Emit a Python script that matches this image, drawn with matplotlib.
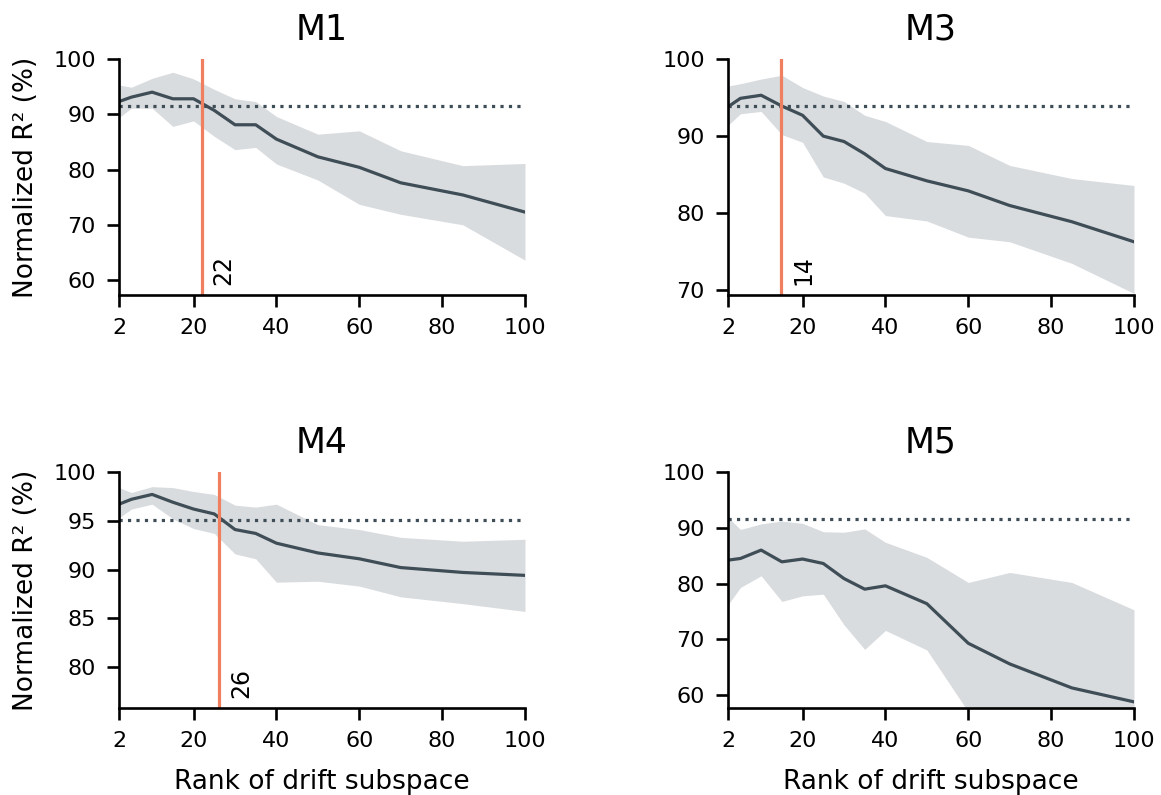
import numpy as np
import matplotlib
matplotlib.use("Agg")
import matplotlib.pyplot as plt

# ranks of the drift subspace (shared x axis)
ranks = [2, 5, 10, 15, 20, 25, 30, 35, 40, 50, 60, 70, 85, 100]

titles = ["M1", "M3", "M4", "M5"]

# mean normalized R2 (%) per animal
mean_m1 = [92.3, 93.1, 94.0, 92.8, 92.8, 90.7, 88.1, 88.1, 85.5, 82.3, 80.4, 77.6, 75.4, 72.3]
mean_m3 = [93.8, 94.9, 95.3, 93.9, 92.7, 90.0, 89.3, 87.7, 85.8, 84.2, 82.9, 81.0, 78.9, 76.3]
mean_m4 = [96.7, 97.2, 97.7, 96.9, 96.2, 95.7, 94.1, 93.7, 92.7, 91.7, 91.1, 90.2, 89.7, 89.4]
mean_m5 = [84.2, 84.5, 86.0, 83.9, 84.4, 83.6, 80.9, 79.0, 79.6, 76.4, 69.3, 65.6, 61.3, 58.8]

# upper / lower edge of the shaded band
upper_m1 = [95.3, 94.9, 96.5, 97.6, 96.4, 94.5, 92.8, 92.3, 89.6, 86.4, 87.0, 83.4, 80.7, 81.1]
lower_m1 = [89.4, 91.1, 91.1, 87.8, 88.8, 86.0, 83.6, 84.0, 81.0, 78.1, 73.7, 71.9, 70.0, 63.6]
upper_m3 = [96.5, 96.8, 97.4, 97.9, 96.3, 95.2, 94.5, 92.7, 91.9, 89.3, 88.8, 86.2, 84.5, 83.6]
lower_m3 = [91.4, 92.9, 93.2, 90.2, 89.2, 84.7, 83.9, 82.6, 79.7, 79.0, 76.9, 76.3, 73.5, 69.6]
upper_m4 = [98.4, 97.9, 98.5, 98.4, 98.0, 97.7, 96.6, 96.4, 96.7, 94.6, 94.1, 93.3, 92.9, 93.1]
lower_m4 = [95.3, 96.2, 96.7, 95.2, 94.2, 93.7, 91.6, 91.1, 88.7, 88.8, 88.3, 87.2, 86.5, 85.7]
upper_m5 = [91.9, 89.7, 90.7, 91.2, 90.8, 89.3, 89.2, 89.8, 87.4, 84.7, 80.2, 82.0, 80.2, 75.3]
lower_m5 = [76.2, 79.3, 81.4, 76.8, 77.8, 78.1, 72.6, 68.2, 71.6, 68.1, 57.0, 52.0, 46.0, 42.0]

# reference level (dotted) and chosen rank (orange line)
ref_level = [91.5, 93.9, 95.1, 91.6]
cutoff = [22.0, 14.9, 26.2, None]

y_bottom = [57.3, 69.4, 75.8, 57.7]
y_ticks = [[60, 70, 80, 90, 100], [70, 80, 90, 100], [80, 85, 90, 95, 100], [60, 70, 80, 90, 100]]
x_ticks = [2, 20, 40, 60, 80, 100]

means = [mean_m1, mean_m3, mean_m4, mean_m5]
uppers = [upper_m1, upper_m3, upper_m4, upper_m5]
lowers = [lower_m1, lower_m3, lower_m4, lower_m5]

line_col = "#3f4d57"
band_col = "#d9dcdf"
cut_col = "#ef7f5e"

W, H = 1161, 795
fig = plt.figure(figsize=(W / 100, H / 100), dpi=100)

# axes boxes in pixels: left, top, right, bottom
boxes = [(119, 59, 525, 295), (728, 59, 1134, 295),
         (119, 472, 525, 708), (728, 472, 1134, 708)]

for i, (l, t, r, b) in enumerate(boxes):
    ax = fig.add_axes([l / W, 1 - b / H, (r - l) / W, (b - t) / H])
    ax.fill_between(ranks, lowers[i], uppers[i], color=band_col, lw=0)
    ax.plot(ranks, means[i], color=line_col, lw=2.3)
    ax.hlines(ref_level[i], ranks[0], ranks[-1], color=line_col, lw=2.3, linestyles=":")
    if cutoff[i] is not None:
        ax.axvline(cutoff[i], color=cut_col, lw=2.3)
        ax.annotate(str(int(cutoff[i])), xy=(cutoff[i], y_bottom[i]),
                    xytext=(7, 7), textcoords="offset points",
                    rotation=90, fontsize=17, ha="left", va="bottom")
    ax.set_xlim(2, 100)
    ax.set_ylim(y_bottom[i], 100)
    ax.set_xticks(x_ticks)
    ax.set_yticks(y_ticks[i])
    for s in ["top", "right"]:
        ax.spines[s].set_visible(False)
    for s in ["left", "bottom"]:
        ax.spines[s].set_linewidth(1.9)
    ax.tick_params(labelsize=16, width=1.9, length=8.6, pad=8)
    ax.set_title(titles[i], fontsize=25, pad=14)
    if i % 2 == 0:
        ax.set_ylabel("Normalized R² (%)", fontsize=19, labelpad=10)
    if i >= 2:
        ax.set_xlabel("Rank of drift subspace", fontsize=19, labelpad=13)

fig.savefig("out.png", dpi=100)
